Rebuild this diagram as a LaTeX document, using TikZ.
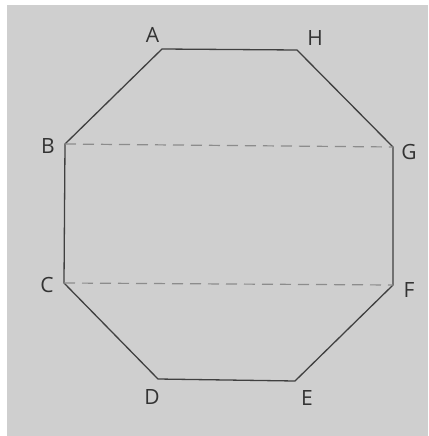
\documentclass[tikz,border=0pt]{standalone}
\usepackage{fontspec}
\setmainfont{Open Sans}
\begin{document}
\begin{tikzpicture}[x=1pt,y=-1pt,
  edge/.style={draw=black!75,line width=1.3pt,line join=miter},
  hidden/.style={draw=black!45,line width=1.2pt,dash pattern=on 11pt off 7pt},
  lbl/.style={font=\fontsize{21}{21}\selectfont,text=black!80,inner sep=0pt,anchor=center}]
\useasboundingbox (0,0) rectangle (428,436);
\fill[white] (0,0) rectangle (428,436);
\fill[black!19] (7,5) rectangle (428,436);
\coordinate (A) at (162,49);
\coordinate (H) at (297,50);
\coordinate (G) at (393,147);
\coordinate (F) at (393,285);
\coordinate (E) at (295,381);
\coordinate (D) at (158,379);
\coordinate (C) at (64,283);
\coordinate (B) at (65,144);
\draw[edge] (A) -- (H) -- (G) -- (F) -- (E) -- (D) -- (C) -- (B) -- cycle;
\draw[hidden] (B) -- (G);
\draw[hidden] (C) -- (F);
\node[lbl] (lA) at (152.5,35) {A};
\node[lbl] (lH) at (315,38) {H};
\node[lbl] (lB) at (48,146) {B};
\node[lbl] (lG) at (409,152) {G};
\node[lbl] (lC) at (47,285) {C};
\node[lbl] (lF) at (409,290) {F};
\node[lbl] (lD) at (152,397) {D};
\node[lbl] (lE) at (307,398) {E};
\end{tikzpicture}
\end{document}
